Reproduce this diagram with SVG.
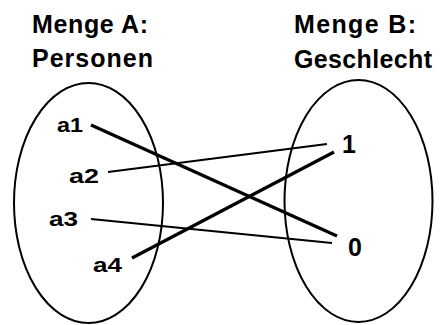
<svg xmlns="http://www.w3.org/2000/svg" width="442" height="325" viewBox="0 0 442 325">
<style>
.title{font-family:"Liberation Sans",Arial,sans-serif;font-weight:bold;font-size:25px;fill:#000}
.lab{font-family:"Liberation Sans",Arial,sans-serif;font-weight:bold;font-size:21px;fill:#000}
.num{font-family:"Liberation Sans",Arial,sans-serif;font-weight:bold;font-size:25px;fill:#000;text-anchor:middle}
.set{fill:none;stroke:#000;stroke-width:2}
.thick{stroke:#000;stroke-width:3.2;fill:none}
.thin{stroke:#000;stroke-width:2.2;fill:none}
</style>
<rect width="442" height="325" fill="#fff"/>
<g id="setA">
<ellipse class="set" cx="88.5" cy="203" rx="74.5" ry="120"/>
<text class="title" x="32" y="33" textLength="116" lengthAdjust="spacing">Menge A:</text>
<text class="title" x="32" y="67" textLength="121" lengthAdjust="spacing">Personen</text>
</g>
<g id="setB">
<ellipse class="set" cx="358.5" cy="201" rx="74" ry="121"/>
<text class="title" x="294" y="33" textLength="122" lengthAdjust="spacing">Menge B:</text>
<text class="title" x="294" y="68" textLength="138" lengthAdjust="spacing">Geschlecht</text>
</g>
<g id="a1"><text class="lab" x="57" y="132" textLength="26" lengthAdjust="spacingAndGlyphs">a1</text></g>
<g id="a2"><text class="lab" x="69" y="183" textLength="30" lengthAdjust="spacingAndGlyphs">a2</text></g>
<g id="a3"><text class="lab" x="49" y="226" textLength="29" lengthAdjust="spacingAndGlyphs">a3</text></g>
<g id="a4"><text class="lab" x="93" y="272" textLength="29" lengthAdjust="spacingAndGlyphs">a4</text></g>
<g id="b1"><text class="num" x="349" y="153">1</text></g>
<g id="b0"><text class="num" x="355" y="256">0</text></g>
<g id="connectors">
<line class="thick" x1="91" y1="125" x2="337" y2="236"/>
<line class="thin" x1="108" y1="172" x2="327" y2="144"/>
<line class="thin" x1="91" y1="219" x2="332" y2="243"/>
<line class="thick" x1="132" y1="258" x2="334" y2="152"/>
</g>
</svg>
